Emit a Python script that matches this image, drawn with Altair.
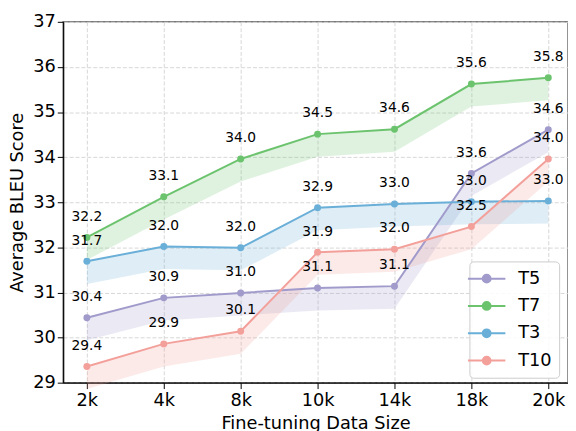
import json
import altair as alt
import pandas as pd

sizes = ["2k", "4k", "8k", "10k", "14k", "18k", "20k"]
series = ["T5", "T7", "T3", "T10"]
t5 = [30.44, 30.88, 30.99, 31.10, 31.14, 33.64, 34.61]
t7 = [32.22, 33.12, 33.96, 34.51, 34.62, 35.62, 35.76]
t3 = [31.69, 32.02, 31.99, 32.88, 32.96, 33.01, 33.03]
t10 = [29.36, 29.86, 30.14, 31.89, 31.96, 32.46, 33.96]
colors = ["#a09bcb", "#6cc36e", "#6aafd8", "#f3a09b"]
band_width = 0.5

values = {"T5": t5, "T7": t7, "T3": t3, "T10": t10}
rows = []
for s in series:
    for i, (lab, v) in enumerate(zip(sizes, values[s])):
        rows.append({"i": i, "size": lab, "series": s, "v": v})
df = pd.DataFrame(rows)

FONT = "DejaVu Sans"
W, H = 512, 366
step = 78.0
left_off = 24.0
xdom = [-left_off / step, (W - left_off) / step]

label_expr = json.dumps(sizes) + "[round(datum.value)]"

x = alt.X(
    "i:Q",
    scale=alt.Scale(domain=xdom, nice=False, zero=False),
    axis=alt.Axis(
        values=list(range(len(sizes))),
        labelExpr=label_expr,
        title="Fine-tuning Data Size",
    ),
)
y = alt.Y(
    "v:Q",
    scale=alt.Scale(domain=[29, 37], nice=False, zero=False),
    axis=alt.Axis(values=list(range(29, 38)), title="Average BLEU Score"),
)

base = alt.Chart(df)

# line-with-dot legend symbol (unit = sqrt(symbolSize)/2 px)
legend_path = (
    "M-2.11,0H2.11M0.44,0A0.44,0.44,0,1,1,-0.44,0A0.44,0.44,0,1,1,0.44,0Z"
)

# band colour scale uses the reversed order so it is kept apart from the legend
area = base.transform_calculate(low=f"datum.v - {band_width}").mark_area(
    opacity=0.22
).encode(
    x=x,
    y=alt.Y("low:Q", scale=alt.Scale(domain=[29, 37], nice=False, zero=False)),
    y2="v:Q",
    color=alt.Color(
        "series:N",
        scale=alt.Scale(domain=series[::-1], range=colors[::-1]),
        legend=None,
    ),
    detail="series:N",
)

line = base.mark_line(strokeWidth=2).encode(
    x=x,
    y=y,
    stroke=alt.Stroke(
        "series:N",
        scale=alt.Scale(domain=series, range=colors),
        legend=alt.Legend(title=None),
    ),
)

points = base.mark_circle(size=50, opacity=1).encode(
    x=x,
    y=y,
    fill=alt.Fill(
        "series:N",
        scale=alt.Scale(domain=series, range=colors),
        legend=alt.Legend(title=None),
    ),
)

text = base.mark_text(dy=-21, fontSize=14, font=FONT, color="black").encode(
    x=x,
    y=y,
    text=alt.Text("v:Q", format=".1f"),
)

chart = (
    alt.layer(area, line, points, text)
    .properties(
        width=W,
        height=H,
        autosize=alt.AutoSizeParams(type="none"),
        padding={"left": 56, "top": 11, "right": 0, "bottom": 46},
    )
    .configure_view(stroke="#777777", strokeWidth=1.6)
    .configure_axis(
        labelFont=FONT,
        titleFont=FONT,
        labelFontSize=18,
        titleFontSize=18,
        titleFontWeight="normal",
        labelColor="black",
        titleColor="black",
        domainColor="black",
        domainWidth=1.2,
        tickColor="black",
        tickSize=6,
        tickWidth=1,
        grid=True,
        gridColor="#d6d6d6",
        gridDash=[4, 2],
        gridWidth=1,
    )
    .configure_axisY(labelPadding=2, titlePadding=6)
    .configure_axisX(labelPadding=3, titlePadding=5)
    .configure_legend(
        orient="none",
        legendX=412,
        legendY=243,
        symbolType=legend_path,
        symbolSize=324,
        symbolStrokeWidth=2,
        labelFont=FONT,
        labelFontSize=18,
        labelColor="black",
        labelOffset=22,
        padding=7.5,
        rowPadding=8.7,
        strokeColor="#cccccc",
        cornerRadius=4,
        fillColor="rgba(255,255,255,0.85)",
    )
)

chart.save("out.html", embed_options={"renderer": "svg", "actions": False})
